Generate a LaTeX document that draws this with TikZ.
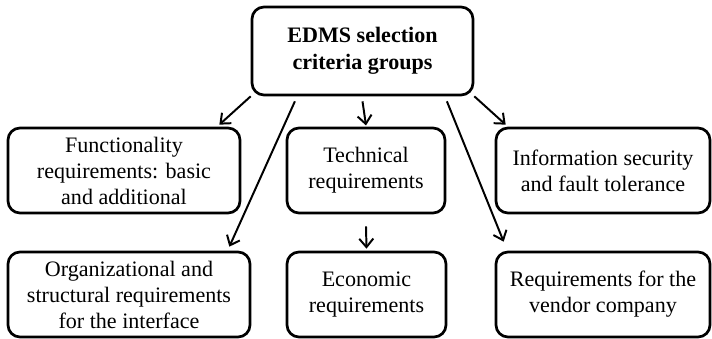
\documentclass[tikz,border=0pt]{standalone}
\usepackage{fontspec}
\setmainfont{Liberation Serif}
\usetikzlibrary{arrows.meta}

\begin{document}
\begin{tikzpicture}[
    crit/.style={draw, line width=1.9pt, rounded corners=0.3cm, align=center,
        minimum height=2.125cm, inner sep=2pt, font=\fontsize{15.7}{18.5}\selectfont},
    arr/.style={line width=1.4pt, -{Straight Barb[length=6pt,width=10pt,line width=1.4pt]}}
]
    \useasboundingbox (0,0) rectangle (17.8,8.45);

    \node[crit, minimum width=5.525cm, minimum height=2.2cm, font=\fontsize{15.7}{19.5}\selectfont\bfseries]
        (groups) at (9.0625,7.175) {EDMS selection\\criteria groups};

    \node[crit, minimum width=5.8cm] (func) at (3.1,4.1875)
        {Functionality\\requirements: basic\\and additional};
    \node[crit, minimum width=3.95cm] (tech) at (9.15,4.1875)
        {Technical\\requirements};
    \node[crit, minimum width=5.35cm] (info) at (15.075,4.1875)
        {Information security\\and fault tolerance};

    \node[crit, minimum width=6.05cm] (org) at (3.225,1.0875)
        {Organizational and\\structural requirements\\for the interface};
    \node[crit, minimum width=3.975cm] (econ) at (9.1625,1.0875)
        {Economic\\requirements};
    \node[crit, minimum width=5.35cm] (vendor) at (15.075,1.0875)
        {Requirements for the\\vendor company};

    % arrows from the main box
    \draw[arr] (groups.south west) -- ([xshift=-0.55cm,yshift=0.05cm]func.north east);
    \draw[arr] ([xshift=-1.69cm,yshift=-0.125cm]groups.south) -- ([xshift=-0.55cm,yshift=0.1cm]org.north east);
    \draw[arr] ([yshift=-0.125cm]groups.south) -- ([yshift=0.03cm]tech.north);
    \draw[arr] ([xshift=2.11cm,yshift=-0.125cm]groups.south) -- ([xshift=0.225cm,yshift=0.225cm]vendor.north west);
    \draw[arr] (groups.south east) -- ([xshift=0.275cm,yshift=0.05cm]info.north west);

    \draw[arr] ([yshift=-0.3cm]tech.south) -- ([yshift=0.05cm]econ.north);
\end{tikzpicture}
\end{document}
